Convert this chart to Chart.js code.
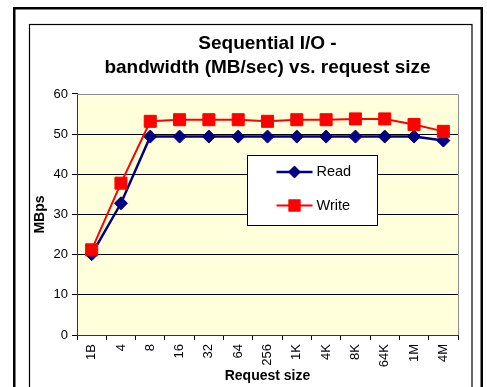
<!DOCTYPE html>
<html>
<head>
<meta charset="utf-8">
<script src="https://cdn.jsdelivr.net/npm/chart.js@4/dist/chart.umd.min.js"></script>
<style>
  html, body { margin: 0; padding: 0; background: #fff; }
  canvas { display: block; }
</style>
</head>
<body>
<canvas id="chart" width="487" height="387"></canvas>
<script>
// request sizes on the x axis
const requestSizes = ['1B', '4', '8', '16', '32', '64', '256', '1K', '4K', '8K', '64K', '1M', '4M'];
// MB/sec
const readMBps  = [20.1, 32.8, 49.4, 49.4, 49.4, 49.4, 49.4, 49.4, 49.4, 49.4, 49.4, 49.4, 48.4];
const writeMBps = [21.2, 37.8, 53.2, 53.6, 53.6, 53.6, 53.2, 53.6, 53.6, 53.8, 53.8, 52.4, 50.7];
const yTicks = [0, 10, 20, 30, 40, 50, 60];

const FONT = 'Arial, "Liberation Sans", sans-serif';

// outer frames + yellow plot background
const framePlugin = {
    id: 'frames',
    beforeDraw(chart) {
        const { ctx, chartArea: a } = chart;
        ctx.save();
        ctx.fillStyle = '#fff';
        ctx.fillRect(0, 0, chart.width, chart.height);
        ctx.strokeStyle = '#000';
        ctx.lineWidth = 2.5;
        ctx.strokeRect(14.25, 8.25, 467.5, 400);
        ctx.lineWidth = 1.2;
        ctx.strokeRect(29.5, 24.5, 442.5, 400);
        ctx.fillStyle = '#FFFFDC';
        ctx.fillRect(a.left, a.top, a.right - a.left, a.bottom - a.top);
        ctx.restore();
    },
    beforeDatasetsDraw(chart) {
        // grey border on top and right of the plot
        const { ctx, chartArea: a } = chart;
        ctx.save();
        ctx.strokeStyle = '#8c8c8c';
        ctx.lineWidth = 1;
        ctx.beginPath();
        ctx.moveTo(a.left, Math.round(a.top) + 0.5);
        ctx.lineTo(Math.round(a.right) + 0.5, Math.round(a.top) + 0.5);
        ctx.lineTo(Math.round(a.right) + 0.5, a.bottom);
        ctx.stroke();
        ctx.restore();
    }
};

// boxed legend sitting inside the plot, like the original
const boxLegendPlugin = {
    id: 'boxLegend',
    afterDatasetsDraw(chart) {
        const { ctx, chartArea: a } = chart;
        const w = a.right - a.left;
        const h = a.bottom - a.top;
        const bx = Math.round(a.left + w * 0.446) + 0.5;
        const by = Math.round(a.top + h * 0.253) + 0.5;
        const bw = 130, bh = 70;
        ctx.save();
        ctx.fillStyle = '#fff';
        ctx.fillRect(bx, by, bw, bh);
        ctx.strokeStyle = '#000';
        ctx.lineWidth = 1;
        ctx.strokeRect(bx, by, bw, bh);

        ctx.font = '14.5px ' + FONT;
        ctx.textBaseline = 'middle';
        chart.data.datasets.forEach((ds, i) => {
            const y = by + 16.5 + i * 33.5;
            const x0 = bx + 29, x1 = bx + 65;
            ctx.strokeStyle = ds.borderColor;
            ctx.lineWidth = ds.borderWidth;
            ctx.beginPath();
            ctx.moveTo(x0, y);
            ctx.lineTo(x1, y);
            ctx.stroke();
            Chart.helpers.drawPoint(ctx, {
                pointStyle: ds.pointStyle,
                radius: ds.pointStyle === 'rect' ? 7 : 4.5,
                rotation: 0,
                borderWidth: 1
            }, (x0 + x1) / 2, y);
            ctx.fillStyle = ds.pointBackgroundColor;
            ctx.strokeStyle = ds.pointBorderColor;
            ctx.fill();
            ctx.stroke();
            ctx.fillStyle = '#000';
            ctx.fillText(ds.label, x1 + 4, y);
        });
        ctx.restore();
    }
};

new Chart(document.getElementById('chart'), {
    type: 'line',
    data: {
        labels: requestSizes,
        datasets: [
            {
                label: 'Read',
                data: readMBps,
                borderColor: '#000080',
                borderWidth: 2.5,
                pointStyle: 'rectRot',
                pointRadius: 6.5,
                pointBackgroundColor: '#000080',
                pointBorderColor: '#000080',
                pointBorderWidth: 1,
                tension: 0,
                order: 1
            },
            {
                label: 'Write',
                data: writeMBps,
                borderColor: '#FF0000',
                borderWidth: 2,
                pointStyle: 'rect',
                pointRadius: 8.5,
                pointBackgroundColor: '#FF0000',
                pointBorderColor: '#FF0000',
                pointBorderWidth: 1,
                tension: 0,
                order: 0
            }
        ]
    },
    options: {
        responsive: false,
        animation: false,
        layout: { padding: { left: 29, right: 29, top: 24, bottom: 0 } },
        plugins: {
            legend: { display: false },
            tooltip: { enabled: false },
            title: {
                display: true,
                fullSize: false,
                text: ['Sequential I/O -', 'bandwidth (MB/sec) vs. request size'],
                color: '#000',
                font: { family: FONT, size: 19, weight: 'bold', lineHeight: 1.263 },
                padding: { top: 8, bottom: 14 }
            }
        },
        scales: {
            x: {
                offset: true,
                grid: {
                    offset: true,
                    drawOnChartArea: false,
                    drawTicks: true,
                    tickLength: 5,
                    tickColor: '#000',
                    color: '#000'
                },
                border: { display: true, color: '#333', width: 1 },
                ticks: {
                    autoSkip: false,
                    minRotation: 90,
                    maxRotation: 90,
                    padding: 4,
                    color: '#000',
                    font: { family: FONT, size: 13 }
                },
                title: {
                    display: true,
                    text: 'Request size',
                    color: '#000',
                    font: { family: FONT, size: 14, weight: 'bold' },
                    padding: { top: 0, bottom: 2 }
                },
                afterFit(s) { s.height = 52; }
            },
            y: {
                min: 0,
                max: 60,
                afterBuildTicks(s) { s.ticks = yTicks.map(v => ({ value: v })); },
                grid: {
                    color: ctx => (ctx.tick && ctx.tick.value === 60) ? 'rgba(0,0,0,0)' : '#000',
                    lineWidth: 1,
                    drawTicks: true,
                    tickLength: 5,
                    tickColor: '#000'
                },
                border: { display: true, color: '#333', width: 1 },
                ticks: {
                    padding: 4,
                    color: '#000',
                    font: { family: FONT, size: 13 }
                },
                title: {
                    display: true,
                    text: 'MBps',
                    color: '#000',
                    font: { family: FONT, size: 14, weight: 'bold' },
                    padding: { top: 3, bottom: 0 }
                },
                afterFit(s) { s.width = 48; }
            }
        }
    },
    plugins: [framePlugin, boxLegendPlugin]
});
</script>
</body>
</html>
